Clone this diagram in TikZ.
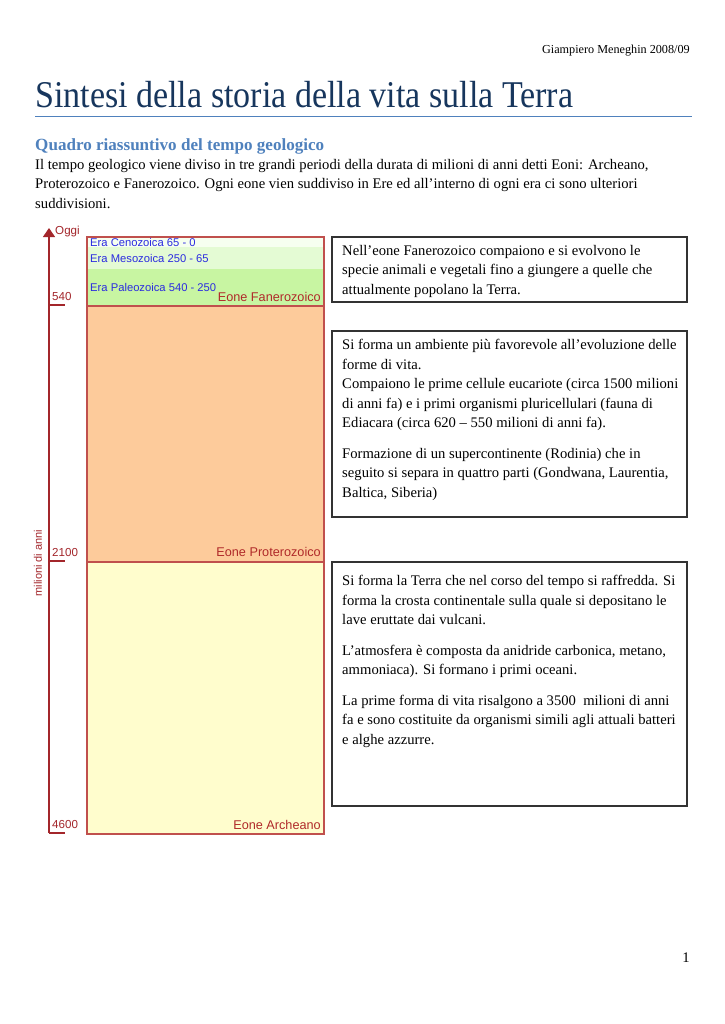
\documentclass[tikz,border=0pt]{standalone}
\usepackage{fontspec}
\setmainfont{Liberation Serif}
\newfontfamily\labelfont{Liberation Sans}
\newfontfamily\titlefont[FakeStretch=0.9]{Liberation Serif}
\usetikzlibrary{arrows.meta,positioning}
\definecolor{titleink}{HTML}{17365D}
\definecolor{headblue}{HTML}{4F81BD}
\definecolor{axisred}{HTML}{A3262B}
\definecolor{eonred}{HTML}{B02A2A}
\definecolor{erablue}{HTML}{2B2BE0}
\definecolor{cenofill}{HTML}{F6FFF0}
\definecolor{mesofill}{HTML}{E4FBD4}
\definecolor{paleofill}{HTML}{C8F5A2}
\definecolor{proterofill}{HTML}{FDCB9B}
\definecolor{archeofill}{HTML}{FFFDCD}
\definecolor{colborder}{HTML}{C0504D}
\tikzset{
  bodytext/.style={font=\fontsize{12}{16}\selectfont,align=left,inner sep=0pt,anchor=north west},
  infobox/.style={draw=black!80,line width=.9pt},
  eralabel/.style={font=\labelfont\fontsize{9.2}{10}\selectfont,text=erablue,anchor=west,inner sep=0pt},
  eonlabel/.style={font=\labelfont\fontsize{10.4}{11}\selectfont,text=eonred,anchor=east,inner sep=0pt},
  ticklabel/.style={font=\labelfont\fontsize{9.5}{10}\selectfont,text=axisred,anchor=west,inner sep=0pt},
  axis/.style={draw=axisred,line width=.9pt}}

\begin{document}
\begin{tikzpicture}[x=0.82pt,y=-0.82pt]
\useasboundingbox (0,0) rectangle (725,1024);
\fill[white] (0,0) rectangle (725,1024);
% page header
\node[anchor=base east,font=\fontsize{10}{12}\selectfont,inner sep=0pt] (author) at (690,53) {Giampiero Meneghin 2008/09};
\node[anchor=base west,font=\titlefont\fontsize{31}{33}\selectfont,text=titleink,inner sep=0pt] (title) at (35,107) {Sintesi della storia della vita sulla Terra};
\draw[headblue,line width=.8pt] (35,116) -- (692,116);
\node[anchor=base west,font=\bfseries\fontsize{14}{16}\selectfont,text=headblue,inner sep=0pt] (subtitle) at (35,150) {Quadro riassuntivo del tempo geologico};
\node[bodytext] (intro) at (35,159) {Il tempo geologico viene diviso in tre grandi periodi della durata di milioni di anni detti Eoni: Archeano,\\Proterozoico e Fanerozoico. Ogni eone vien suddiviso in Ere ed all’interno di ogni era ci sono ulteriori\\suddivisioni.};
% column of eons and eras
\fill[cenofill] (87,237) rectangle (324,247);
\fill[mesofill] (87,247) rectangle (324,269);
\fill[paleofill] (87,269) rectangle (324,306);
\fill[proterofill] (87,306) rectangle (324,562);
\fill[archeofill] (87,562) rectangle (324,834);
\draw[colborder,line width=.9pt] (87,237) rectangle (324,834);
\draw[colborder,line width=.9pt] (87,306) -- (324,306) (87,562) -- (324,562);
\node[eralabel] (ceno) at (90,242) {Era Cenozoica 65 - 0};
\node[eralabel] (meso) at (90,258) {Era Mesozoica 250 - 65};
\node[eralabel] (paleo) at (90,287) {Era Paleozoica 540 - 250};
\node[eonlabel] (fanero) at (321,297) {Eone Fanerozoico};
\node[eonlabel] (protero) at (321,552) {Eone Proterozoico};
\node[eonlabel] (archeo) at (321,825) {Eone Archeano};
% time axis
\draw[axis,-{Triangle[width=10pt,length=7.5pt]}] (49,833) -- (49,228);
\node[ticklabel] (oggi) at (55,232) {Oggi};
\foreach \y/\v in {305/540,561/2100,833/4600} {
  \draw[axis] (49,\y) -- (65,\y);
  \node[ticklabel] (tick\v) at (52,\y-8) {\v};}
\node[rotate=90,font=\labelfont\fontsize{9}{10}\selectfont,text=axisred,inner sep=0pt] (unit) at (38,563) {milioni di anni};
% description boxes
\draw[infobox] (332,237) rectangle (687,302);
\draw[infobox] (332,331) rectangle (687,517);
\draw[infobox] (332,562) rectangle (687,806);
\node[bodytext] (fanerotext) at (342,245) {Nell’eone Fanerozoico compaiono e si evolvono le\\specie animali e vegetali fino a giungere a quelle che\\attualmente popolano la Terra.};
\node[bodytext] (proterotext) at (342,339) {Si forma un ambiente più favorevole all’evoluzione delle\\forme di vita.\\Compaiono le prime cellule eucariote (circa 1500 milioni\\di anni fa) e i primi organismi pluricellulari (fauna di\\Ediacara (circa 620 – 550 milioni di anni fa).\\[9pt]Formazione di un supercontinente (Rodinia) che in\\seguito si separa in quattro parti (Gondwana, Laurentia,\\Baltica, Siberia)};
\node[bodytext] (archeotext) at (342,575) {Si forma la Terra che nel corso del tempo si raffredda. Si\\forma la crosta continentale sulla quale si depositano le\\lave eruttate dai vulcani.\\[9pt]L’atmosfera è composta da anidride carbonica, metano,\\ammoniaca). Si formano i primi oceani.\\[9pt]La prime forma di vita risalgono a 3500~ milioni di anni\\fa e sono costituite da organismi simili agli attuali batteri\\e alghe azzurre.};
\node[anchor=base east,font=\fontsize{12}{14}\selectfont,inner sep=0pt] (pagenum) at (690,962) {1};
\end{tikzpicture}
\end{document}
